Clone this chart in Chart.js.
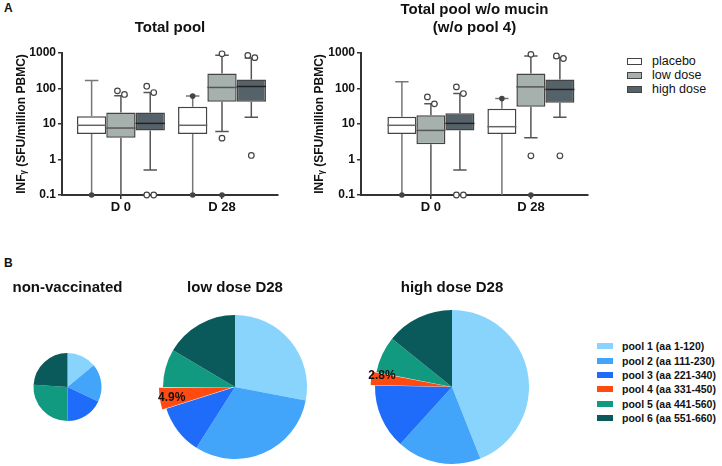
<!DOCTYPE html>
<html>
<head>
<meta charset="utf-8">
<script src="https://cdn.jsdelivr.net/npm/chart.js@4.4.0/dist/chart.umd.min.js"></script>
<style>
  body { margin: 0; background: #fff; }
  #fig { position: relative; width: 722px; height: 466px; overflow: hidden; font-family: "Liberation Sans", Arial, sans-serif; color: #111; }
  .cell { position: absolute; }
  .panel { position: absolute; font-weight: bold; font-size: 12px; }
  .legend { position: absolute; }
  .legend .row { display: flex; align-items: center; white-space: nowrap; }
  .legend .sw { display: inline-block; box-sizing: border-box; }
</style>
</head>
<body>
<div id="fig">
  <div class="panel" style="left:4px;top:1px">A</div>
  <div class="cell" style="left:0;top:0;width:290px;height:225px"><canvas id="boxTotal"></canvas></div>
  <div class="cell" style="left:300px;top:0;width:300px;height:225px"><canvas id="boxNoMucin"></canvas></div>
  <div class="legend" id="doseLegend" style="left:627px;top:54px;font-size:12.5px"></div>

  <div class="panel" style="left:4px;top:256px">B</div>
  <div class="cell" style="left:0;top:262px;width:135px;height:204px"><canvas id="pieNon"></canvas></div>
  <div class="cell" style="left:150px;top:262px;width:170px;height:204px"><canvas id="pieLow"></canvas></div>
  <div class="cell" style="left:362px;top:262px;width:180px;height:204px"><canvas id="pieHigh"></canvas></div>
  <div class="legend" id="poolLegend" style="left:597px;top:339px;font-size:10.5px;font-weight:bold"></div>
</div>
<script>
const FONT = '"Liberation Sans", Arial, sans-serif';

const categories = ['D 0', 'D 28'];
const groupNames = ['placebo', 'low dose', 'high dose'];
const yTicks = [0.1, 1, 10, 100, 1000];

// box stats per category: [min, q1, median, q3, max]
const totalPlacebo = [[0.1, 5.2, 9.2, 16.4, 167], [0.1, 5.2, 9.2, 30.6, 61]];
const totalLow = [[0.1, 4.1, 7.7, 21, 62], [6.1, 42, 107, 264, 860]];
const totalHigh = [[0.51, 6.6, 10.4, 21, 77], [15.4, 42, 114, 179, 724]];
// outliers (open circles) and zero / filled points
const totalPlaceboOpen = [[], []];
const totalPlaceboFilled = [[0.1], [61, 0.1]];
const totalLowOpen = [[68, 86], [950, 4.0]];
const totalLowFilled = [[], [0.1]];
const totalHighOpen = [[116, 77, 0.1, 0.1], [860, 740, 1.3]];
const totalHighFilled = [[], []];

const noMucinPlacebo = [[0.1, 5.2, 9.2, 16, 154], [0.1, 5.2, 8.4, 27, 52]];
const noMucinLow = [[0.1, 2.7, 6.6, 17.5, 37], [4.1, 30.6, 111, 264, 824]];
const noMucinHigh = [[0.51, 6.6, 10.4, 20, 72], [15.6, 40, 94, 179, 740]];
const noMucinPlaceboOpen = [[], []];
const noMucinPlaceboFilled = [[0.1], [52]];
const noMucinLowOpen = [[37, 58], [917, 1.27]];
const noMucinLowFilled = [[], [0.1]];
const noMucinHighOpen = [[111, 72, 0.1, 0.1], [824, 700, 1.27]];
const noMucinHighFilled = [[], []];

// pie charts: share of response per peptide pool (%)
const pools = ['pool 1 (aa 1-120)', 'pool 2 (aa 111-230)', 'pool 3 (aa 221-340)',
               'pool 4 (aa 331-450)', 'pool 5 (aa 441-560)', 'pool 6 (aa 551-660)'];
const nonVaccinated = [14, 18, 18, 0, 26, 24];
const lowDoseD28 = [28, 31, 11.1, 4.9, 8.5, 16.5];
const highDoseD28 = [44, 17.7, 13.6, 2.8, 7.7, 14.2];

const groupFill = ['#ffffff', '#a6b0ac', '#56626a'];
const groupWhisker = ['#777', '#555', '#555'];
const groupMedian = ['#666', '#555', '#222'];
const poolColors = ['#88d4fc', '#42a5fa', '#1f6cfa', '#ff4a12', '#129a80', '#0a5a5c'];

function drawPoints(ctx, x, py, values, filled) {
    const ys = values.map(py).sort((a, b) => a - b);
    // put points side by side when they would overlap
    let i = 0;
    while (i < ys.length) {
        let j = i;
        while (j + 1 < ys.length && ys[j + 1] - ys[j] < 7) j++;
        const n = j - i + 1;
        for (let k = 0; k < n; k++) {
            const px = x + (k - (n - 1) / 2) * 7;
            ctx.beginPath();
            ctx.arc(px, ys[i + k], 2.8, 0, Math.PI * 2);
            if (filled) {
                ctx.fillStyle = '#444';
                ctx.fill();
            } else {
                ctx.fillStyle = '#fff';
                ctx.fill();
                ctx.strokeStyle = '#444';
                ctx.lineWidth = 1.2;
                ctx.stroke();
            }
        }
        i = j + 1;
    }
}

const boxWhiskers = {
    id: 'boxWhiskers',
    afterDatasetsDraw(chart) {
        const ctx = chart.ctx;
        const yScale = chart.scales.y;
        const py = v => yScale.getPixelForValue(v);
        chart.data.datasets.forEach((ds, i) => {
            chart.getDatasetMeta(i).data.forEach((bar, j) => {
                const s = ds.stats[j];
                const x = bar.x;
                const cap = bar.width * 0.23;
                ctx.save();
                ctx.lineWidth = 1.5;
                ctx.strokeStyle = ds.whiskerColor;
                ctx.beginPath();
                ctx.moveTo(x, py(s[3])); ctx.lineTo(x, py(s[4]));
                ctx.moveTo(x, py(s[1])); ctx.lineTo(x, py(s[0]));
                ctx.moveTo(x - cap, py(s[4])); ctx.lineTo(x + cap, py(s[4]));
                if (s[0] > yScale.min) {
                    ctx.moveTo(x - cap, py(s[0])); ctx.lineTo(x + cap, py(s[0]));
                }
                ctx.stroke();
                ctx.strokeStyle = ds.medianColor;
                ctx.beginPath();
                ctx.moveTo(x - bar.width / 2, py(s[2]));
                ctx.lineTo(x + bar.width / 2, py(s[2]));
                ctx.stroke();
                drawPoints(ctx, x, py, ds.open[j], false);
                drawPoints(ctx, x, py, ds.filled[j], true);
                ctx.restore();
            });
        });
    }
};

// xStart / xRange: where the two categories sit along the x axis (in category units)
function boxChart(id, titleText, titleTop, sets, padLeft, axisWidth, padRight, xStart, xRange) {
    return new Chart(document.getElementById(id), {
        type: 'bar',
        data: {
            labels: categories,
            datasets: sets.map((s, k) => ({
                label: groupNames[k],
                data: s.stats.map(v => [v[1], v[3]]),
                stats: s.stats,
                open: s.open,
                filled: s.filled,
                backgroundColor: groupFill[k],
                borderColor: '#444',
                borderWidth: 1.5,
                borderSkipped: false,
                categoryPercentage: 0.87,
                barPercentage: 1,
                whiskerColor: groupWhisker[k],
                medianColor: groupMedian[k]
            }))
        },
        plugins: [boxWhiskers],
        options: {
            animation: false,
            responsive: true,
            maintainAspectRatio: false,
            layout: {padding: {left: padLeft, right: padRight, top: 0, bottom: 0}},
            plugins: {
                legend: {display: false},
                tooltip: {enabled: false},
                title: {
                    display: true,
                    text: titleText,
                    fullSize: false,
                    color: '#111',
                    font: {size: 15, weight: 'bold', family: FONT, lineHeight: 1.2},
                    padding: {top: titleTop, bottom: 16}
                }
            },
            scales: {
                x: {
                    afterBuildTicks: scale => {
                        scale._startValue = xStart;
                        scale._valueRange = xRange;
                    },
                    grid: {drawOnChartArea: false, offset: false, tickLength: 4, color: '#333', lineWidth: 1.5},
                    border: {color: '#333', width: 2},
                    ticks: {color: '#111', padding: 1, font: {size: 13, weight: 'bold', family: FONT}},
                    afterFit: scale => { scale.height = 30; }
                },
                y: {
                    type: 'logarithmic',
                    min: 0.1,
                    max: 1000,
                    afterBuildTicks: scale => { scale.ticks = yTicks.map(v => ({value: v})); },
                    ticks: {callback: v => String(v), color: '#111', padding: 2, font: {size: 12, weight: 'bold', family: FONT}},
                    grid: {drawOnChartArea: false, tickLength: 4, color: '#333', lineWidth: 1.5},
                    border: {color: '#333', width: 2},
                    title: {
                        display: true,
                        text: 'INFᵧ (SFU/million PBMC)',
                        color: '#111',
                        font: {size: 12, weight: 'bold', family: FONT},
                        padding: {top: 2, bottom: 2}
                    },
                    afterFit: scale => { scale.width = axisWidth; }
                }
            }
        }
    });
}

boxChart('boxTotal', 'Total pool', 19, [
    {stats: totalPlacebo, open: totalPlaceboOpen, filled: totalPlaceboFilled},
    {stats: totalLow, open: totalLowOpen, filled: totalLowFilled},
    {stats: totalHigh, open: totalHighOpen, filled: totalHighFilled}
], 12, 50, 12, -0.583, 2.137);

boxChart('boxNoMucin', ['Total pool w/o mucin', '(w/o pool 4)'], 1, [
    {stats: noMucinPlacebo, open: noMucinPlaceboOpen, filled: noMucinPlaceboFilled},
    {stats: noMucinLow, open: noMucinLowOpen, filled: noMucinLowFilled},
    {stats: noMucinHigh, open: noMucinHighOpen, filled: noMucinHighFilled}
], 10, 51, 12, -0.699, 2.27);

const sliceLabel = {
    id: 'sliceLabel',
    afterDatasetsDraw(chart, args, opts) {
        if (opts.index == null) return;
        const ctx = chart.ctx;
        const arc = chart.getDatasetMeta(0).data[opts.index];
        const mid = (arc.startAngle + arc.endAngle) / 2;
        const off = arc.options.offset || 0;
        const circ = arc.endAngle - arc.startAngle;
        const r = arc.outerRadius + off / 4 + off * (1 - Math.sin(Math.min(Math.PI, circ)));
        const cos = Math.cos(mid);
        const tx = arc.x + cos * r;
        const ty = arc.y + Math.sin(mid) * r;
        ctx.save();
        ctx.font = 'bold 12px ' + FONT;
        ctx.fillStyle = '#111';
        ctx.textAlign = cos < 0 ? 'left' : 'right';
        ctx.textBaseline = 'middle';
        const value = chart.data.datasets[0].data[opts.index];
        ctx.fillText(value.toFixed(1) + '%', tx + (cos < 0 ? 3 : -3), ty - 2);
        ctx.restore();
    }
};

function pieChart(id, titleText, values, radius, labelIndex) {
    return new Chart(document.getElementById(id), {
        type: 'pie',
        data: {
            labels: pools,
            datasets: [{
                data: values,
                backgroundColor: poolColors,
                borderWidth: 0,
                offset: values.map((v, i) => i === labelIndex ? 9.5 : 0)
            }]
        },
        plugins: [sliceLabel],
        options: {
            animation: false,
            responsive: true,
            maintainAspectRatio: false,
            radius: radius,
            plugins: {
                legend: {display: false},
                tooltip: {enabled: false},
                sliceLabel: {index: labelIndex},
                title: {
                    display: true,
                    text: titleText,
                    color: '#111',
                    font: {size: 15, weight: 'bold', family: FONT, lineHeight: 1.2},
                    padding: {top: 17, bottom: 11}
                }
            }
        }
    });
}

pieChart('pieNon', 'non-vaccinated', nonVaccinated, 34, null);
pieChart('pieLow', 'low dose D28', lowDoseD28, 72, 3);
pieChart('pieHigh', 'high dose D28', highDoseD28, 77, 3);

function buildLegend(el, names, colors, opts) {
    names.forEach((name, i) => {
        const row = document.createElement('div');
        row.className = 'row';
        row.style.height = opts.rowHeight + 'px';
        const sw = document.createElement('span');
        sw.className = 'sw';
        sw.style.width = opts.w + 'px';
        sw.style.height = opts.h + 'px';
        sw.style.background = colors[i];
        if (opts.border) sw.style.border = opts.border;
        sw.style.marginRight = opts.gap + 'px';
        const txt = document.createElement('span');
        txt.textContent = name;
        row.appendChild(sw);
        row.appendChild(txt);
        el.appendChild(row);
    });
}

buildLegend(document.getElementById('doseLegend'), groupNames, groupFill,
    {rowHeight: 14, w: 15, h: 7, gap: 10, border: '1px solid #444'});
buildLegend(document.getElementById('poolLegend'), pools, poolColors,
    {rowHeight: 14.4, w: 16, h: 6, gap: 9});
</script>
</body>
</html>
